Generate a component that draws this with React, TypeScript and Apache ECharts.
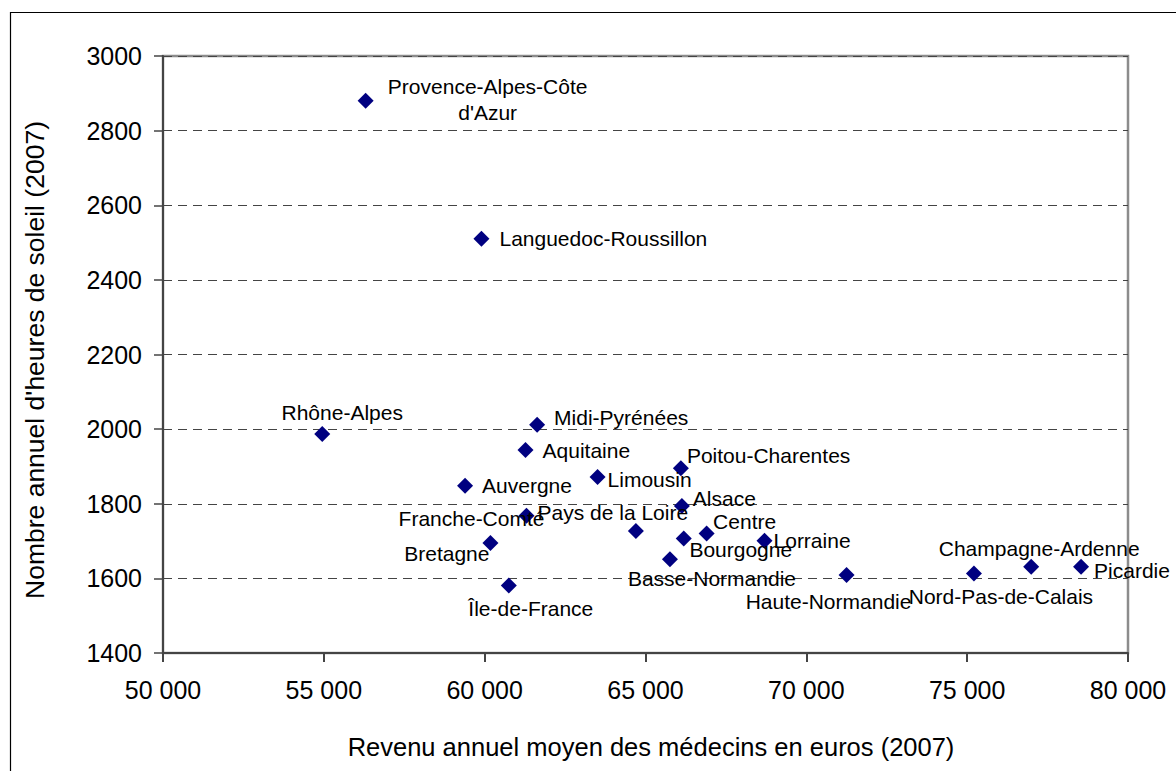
import React, { useEffect, useRef } from "react";
import * as echarts from "echarts";

const regions = [
  "Provence-Alpes-Côte d'Azur", "Languedoc-Roussillon", "Rhône-Alpes", "Midi-Pyrénées",
  "Aquitaine", "Poitou-Charentes", "Limousin", "Auvergne", "Alsace", "Franche-Comté",
  "Pays de la Loire", "Centre", "Bourgogne", "Lorraine", "Bretagne", "Basse-Normandie",
  "Île-de-France", "Haute-Normandie", "Nord-Pas-de-Calais", "Champagne-Ardenne", "Picardie",
];
const incomes = [
  56300, 59900, 54950, 61630, 61270, 66100, 63510, 59390, 66130, 61300,
  64700, 66900, 66190, 68700, 60180, 65760, 60750, 71250, 75210, 76990, 78540,
];
const sunshine = [
  2880, 2510, 1987, 2012, 1944, 1895, 1872, 1848, 1794, 1768,
  1727, 1720, 1707, 1701, 1695, 1651, 1581, 1609, 1613, 1631, 1631,
];
const labelTexts = [
  "Provence-Alpes-Côte\nd'Azur", "Languedoc-Roussillon", "Rhône-Alpes", "Midi-Pyrénées",
  "Aquitaine", "Poitou-Charentes", "Limousin", "Auvergne", "Alsace", "Franche-Comté",
  "Pays de la Loire", "Centre", "Bourgogne", "Lorraine", "Bretagne", "Basse-Normandie",
  "Île-de-France", "Haute-Normandie", "Nord-Pas-de-Calais", "Champagne-Ardenne", "Picardie",
];
// label placement (layout only): [dx, dy, align] relative to marker centre
const labelPlacement: [number, number, string][] = [
  [122, -1, "center"], [18, 0, "left"], [20, -21, "center"], [17, -7, "left"],
  [17, 0, "left"], [6, -13, "left"], [10, 3, "left"], [17, 0, "left"], [11, -7, "left"],
  [18, 3, "right"], [-23, -18, "center"], [38, -12, "center"], [57, 11, "center"],
  [9, 0, "left"], [-1, 11, "right"], [42, 19, "center"], [22, 23, "center"],
  [-18, 26, "center"], [27, 23, "center"], [8, -18, "center"], [13, 4, "left"],
];

const xTitle = "Revenu annuel moyen des médecins en euros (2007)";
const yTitle = "Nombre annuel d'heures de soleil (2007)";
const FONT = "'Liberation Sans', Arial, Helvetica, sans-serif";
const SYM = 16;

export default function App() {
  const ref = useRef<HTMLDivElement>(null);
  useEffect(() => {
    document.body.style.margin = "0";
    const chart = echarts.init(ref.current!, null, { renderer: "svg" });
    const data = regions.map((name, i) => {
      const [dx, dy, align] = labelPlacement[i];
      return {
        name,
        value: [incomes[i], sunshine[i]],
        label: {
          show: true,
          formatter: labelTexts[i],
          position: [dx + SYM / 2, dy + SYM / 2],
          align,
          verticalAlign: "middle",
          lineHeight: 26,
        },
      };
    });
    chart.setOption({
      animation: false,
      backgroundColor: "#ffffff",
      textStyle: { fontFamily: FONT },
      grid: {
        left: 163, right: 48, top: 56, bottom: 118,
        show: true, borderColor: "#8c8c8c", borderWidth: 2.5, backgroundColor: "transparent",
      },
      graphic: [
        {
          type: "rect",
          shape: { x: 10.5, y: 12.5, width: 1300, height: 900 },
          style: { fill: "none", stroke: "#000", lineWidth: 1.2 },
          silent: true,
        },
        {
          type: "text",
          x: 651,
          y: 747,
          style: {
            text: xTitle, fill: "#000", fontSize: 25.5, fontFamily: FONT,
            align: "center", verticalAlign: "middle",
          },
          silent: true,
        },
        {
          type: "text",
          x: 35,
          y: 360,
          rotation: Math.PI / 2,
          style: {
            text: yTitle, fill: "#000", fontSize: 26.5, fontFamily: FONT,
            align: "center", verticalAlign: "middle",
          },
          silent: true,
        },
      ],
      xAxis: {
        type: "value",
        min: 50000, max: 80000, interval: 5000,
        axisLine: { show: true, lineStyle: { color: "#444", width: 2 } },
        axisTick: { show: true, length: 9, lineStyle: { color: "#444", width: 2 } },
        axisLabel: {
          fontSize: 25, color: "#000", margin: 24, fontFamily: FONT,
          formatter: (v: number) => String(v).replace(/\B(?=(\d{3})+(?!\d))/g, " "),
        },
        splitLine: { show: false },
      },
      yAxis: {
        type: "value",
        min: 1400, max: 3000, interval: 200,
        axisLine: { show: true, lineStyle: { color: "#444", width: 2 } },
        axisTick: { show: true, length: 9, lineStyle: { color: "#444", width: 1.5 } },
        axisLabel: {
          fontSize: 25, color: "#000", margin: 21, fontFamily: FONT,
          formatter: (v: number) => String(v),
        },
        splitLine: { show: true, lineStyle: { color: "#444", width: 1, type: [9, 6] } },
      },
      series: [
        {
          type: "scatter",
          symbol: "diamond",
          symbolSize: SYM,
          itemStyle: { color: "#000080", opacity: 1 },
          label: { color: "#000", fontSize: 21, fontFamily: FONT, textBorderWidth: 0 },
          labelLayout: { hideOverlap: false },
          emphasis: { disabled: true },
          data,
        },
      ],
    });
    return () => chart.dispose();
  }, []);
  return <div ref={ref} style={{ width: 1176, height: 771 }} />;
}
